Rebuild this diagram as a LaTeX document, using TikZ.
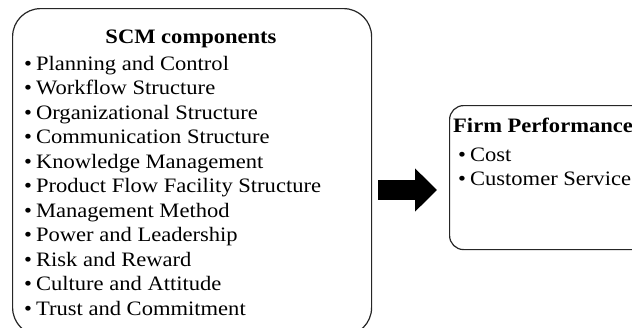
\documentclass[tikz,border=0pt]{standalone}
\usepackage{fontspec}
\setmainfont[FakeStretch=1.1]{Liberation Serif}
\usetikzlibrary{arrows.meta}
\tikzset{
  boxline/.style={draw=black!85, line width=1.2pt, inner sep=0pt, anchor=north west},
  itemtxt/.style={anchor=base west, inner sep=0pt, font=\fontsize{20.5}{24}\selectfont},
  titletxt/.style={anchor=base, inner sep=0pt, font=\fontsize{20.5}{24}\selectfont\bfseries},
  bigarrow/.style={line width=20pt, -{Triangle[length=22pt,width=42pt]}}
}
\newcommand{\bl}{\textbullet\hspace{4pt}}
\begin{document}
\begin{tikzpicture}[x=1pt,y=-1pt]
\useasboundingbox (0,0) rectangle (632,327);
\begin{scope}
\clip (0,0) rectangle (632,327);
\node[boxline, rounded corners=28pt, minimum width=359pt, minimum height=327pt] (scm) at (12,8) {};
\node[boxline, rounded corners=14pt, minimum width=220pt, minimum height=144pt] (firm) at (449,105) {};
\end{scope}
\node[titletxt] (t1) at (191,43) {SCM components};
\node[itemtxt] (i1) at (24,70) {\bl Planning and Control};
\node[itemtxt] (i2) at (24,94.5) {\bl Workflow Structure};
\node[itemtxt] (i3) at (24,119) {\bl Organizational Structure};
\node[itemtxt] (i4) at (24,143.5) {\bl Communication Structure};
\node[itemtxt] (i5) at (24,168) {\bl Knowledge Management};
\node[itemtxt] (i6) at (24,192.5) {\bl Product Flow Facility Structure};
\node[itemtxt] (i7) at (24,217) {\bl Management Method};
\node[itemtxt] (i8) at (24,241.5) {\bl Power and Leadership};
\node[itemtxt] (i9) at (24,266) {\bl Risk and Reward};
\node[itemtxt] (i10) at (24,290.5) {\bl Culture and Attitude};
\node[itemtxt] (i11) at (24,315) {\bl Trust and Commitment};
\node[itemtxt, font=\fontsize{20.5}{24}\selectfont\bfseries] (t2) at (453,132) {Firm Performance};
\node[itemtxt] (j1) at (458,161) {\bl Cost};
\node[itemtxt] (j2) at (458,185) {\bl Customer Service};
\coordinate (as) at (378,190);
\coordinate (ae) at (437,190);
\draw[bigarrow] (as) -- (ae);
\end{tikzpicture}
\end{document}
